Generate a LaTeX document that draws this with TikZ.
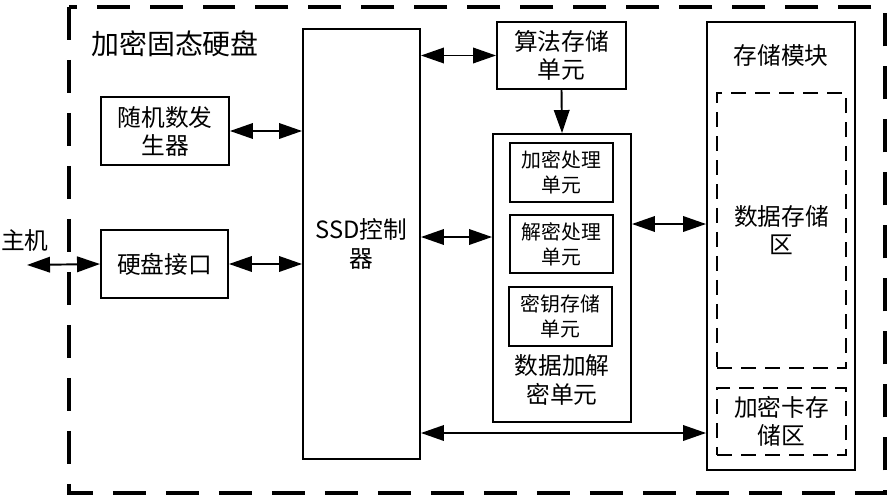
\documentclass[tikz,border=0pt]{standalone}
\usepackage{fontspec}
\newfontfamily\cjk{Noto Sans CJK SC}
\usetikzlibrary{arrows.meta}

\begin{document}
\begin{tikzpicture}[x=0.02cm, y=-0.02cm,
		>={Triangle[length=4.6mm,width=3.1mm]},
		txt/.style={align=center, inner sep=0pt, font=\cjk\fontsize{13.5}{16}\selectfont},
		box/.style={txt, draw, line width=1.1pt},
		smallbox/.style={box, font=\cjk\fontsize{11.3}{14.2}\selectfont, minimum width=2.06cm, minimum height=1.18cm},
		dbox/.style={box, dash pattern=on 0.3cm off 0.18cm, minimum width=2.58cm},
		link/.style={line width=1.1pt}]
		\useasboundingbox (0,0) rectangle (891,500);

		% outer dashed frame
		\draw[line width=2.3pt, dash pattern=on 0.66cm off 0.4cm] (69,7) rectangle (885,493);
		\draw (175,44) node[txt, font=\cjk\fontsize{15.9}{18}\selectfont] (title) {加密固态硬盘};

		\draw (361.5,244) node[box, minimum width=2.34cm, minimum height=8.6cm] (ssd) {SSD控制\\器};
		\draw (165,131) node[box, minimum width=2.56cm, minimum height=1.36cm] (rng) {随机数发\\生器};
		\draw (164.5,264) node[box, minimum width=2.54cm, minimum height=1.36cm] (hdi) {硬盘接口};
		\draw (25,240) node[txt] (host) {主机};
		\coordinate (hostend) at (27,265);

		\draw (561.5,55.5) node[box, minimum width=2.58cm, minimum height=1.34cm] (alg) {算法存储\\单元};
		\draw (562,278) node[box, minimum width=2.76cm, minimum height=5.76cm] (crypt) {};
		\draw (561.5,172.5) node[smallbox] (enc) {加密处理\\单元};
		\draw (561.5,244) node[smallbox, minimum height=1.16cm] (dec) {解密处理\\单元};
		\draw (560.5,316.5) node[smallbox] (key) {密钥存储\\单元};
		\draw (562,380) node[txt] (cryptlabel) {数据加解\\密单元};

		\draw (781,246) node[box, minimum width=2.96cm, minimum height=8.96cm] (store) {};
		\draw (781,55) node[txt] (storelabel) {存储模块};
		\draw (781.5,230.5) node[dbox, minimum height=5.5cm] (dstore) {数据存储\\区};
		\draw (781.5,421.5) node[dbox, minimum height=1.34cm] (cstore) {加密卡存\\储区};

		% connections
		\draw[link, <->] (hostend) -- (hdi.west);
		\draw[link, <->] (hdi.east) -- (hdi.east -| ssd.west);
		\draw[link, <->] (rng.east) -- (rng.east -| ssd.west);
		\draw[link, <->] (ssd.east |- alg.west) -- (alg.west);
		\draw[link, ->] (alg.south) -- (crypt.north);
		\draw[link, <->] (ssd.east |- 0,237) -- (crypt.west |- 0,237);
		\draw[link, <->] (crypt.east |- 0,224) -- (store.west |- 0,224);
		\draw[link, <->] (ssd.east |- 0,433) -- (store.west |- 0,433);

	\end{tikzpicture}
\end{document}
